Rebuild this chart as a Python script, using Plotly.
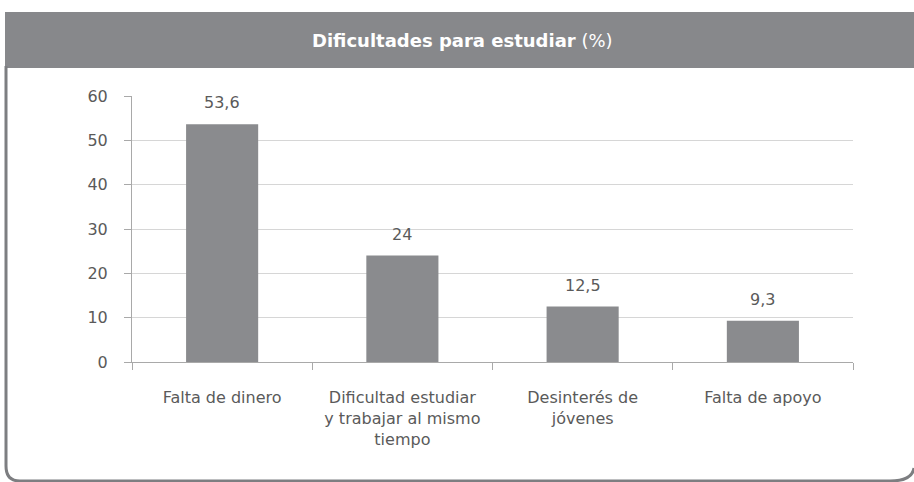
import plotly.graph_objects as go

categorias = ["Falta de dinero",
              "Dificultad estudiar<br>y trabajar al mismo<br>tiempo",
              "Desinterés de<br>jóvenes",
              "Falta de apoyo"]
valores = [53.6, 24, 12.5, 9.3]
etiquetas = ["53,6", "24", "12,5", "9,3"]
y_ticks = [0, 10, 20, 30, 40, 50, 60]

W, H = 914, 482
L, R, T, B = 132, 61, 96, 120
pw, ph = W - L - R, H - T - B


def px_x(x):
    return (x - L) / pw


def px_y(y):
    return (H - B - y) / ph


gris = "#8a8b8e"
texto = "#5a5a5a"
fuente = "DejaVu Sans, sans-serif"

fig = go.Figure(go.Bar(
    x=categorias, y=valores,
    marker=dict(color=gris, line=dict(width=0)), width=0.4,
))

shapes = [
    # franja del titulo
    dict(type="rect", xref="paper", yref="paper", layer="below",
         x0=px_x(5), x1=px_x(W + 5), y0=px_y(12), y1=px_y(68),
         fillcolor="#87888b", line=dict(width=0)),
    # borde del panel
    dict(type="path", xref="paper", yref="paper", layer="below",
         path=(f"M {px_x(6)} {px_y(66)} L {px_x(6)} {px_y(466)} "
               f"Q {px_x(6)} {px_y(481)} {px_x(20)} {px_y(481)} "
               f"L {px_x(890)} {px_y(481)} "
               f"Q {px_x(912)} {px_y(481)} {px_x(914)} {px_y(468)}"),
         line=dict(color="#7d7e81", width=3)),
]

annotations = [dict(text="<b>Dificultades para estudiar</b> (%)", xref="paper", yref="paper",
                    x=px_x(462), y=px_y(41), xanchor="center", yanchor="middle",
                    showarrow=False,
                    font=dict(family=fuente, size=18, color="white"))]
for c, v, t in zip(categorias, valores, etiquetas):
    annotations.append(dict(x=c, y=v, text=t, showarrow=False, yanchor="bottom", yshift=10,
                            font=dict(family=fuente, size=16, color=texto)))

fig.update_layout(
    width=W, height=H,
    margin=dict(l=L, r=R, t=T, b=B),
    paper_bgcolor="white", plot_bgcolor="white",
    font=dict(family=fuente, color=texto, size=16),
    showlegend=False,
    shapes=shapes,
    annotations=annotations,
    xaxis=dict(showline=True, linecolor="#a9a9a9", linewidth=1,
               ticks="outside", tickson="boundaries", ticklen=7, tickcolor="#a9a9a9",
               tickfont=dict(size=16, color=texto), ticklabelstandoff=21),
    yaxis=dict(range=[0, 60], tickvals=y_ticks, showline=True, linecolor="#a9a9a9",
               ticks="outside", ticklen=7, tickcolor="#a9a9a9",
               showgrid=True, gridcolor="#d6d6d6", gridwidth=1, zeroline=False,
               tickfont=dict(size=16, color=texto), ticklabelstandoff=13),
)

fig.write_html("out.html", config={"displayModeBar": False},
               post_script="document.body.style.margin='0';")
